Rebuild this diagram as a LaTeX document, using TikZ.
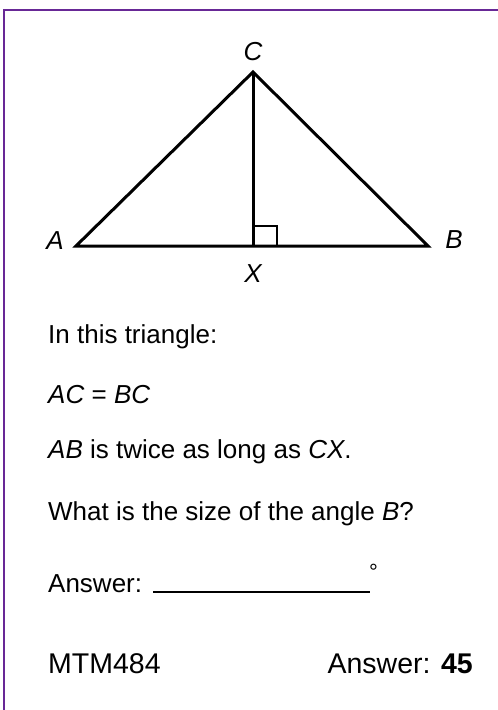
\documentclass[tikz,border=0pt]{standalone}
\usepackage{fontspec}
\setmainfont{Liberation Sans}
\usetikzlibrary{positioning}

\definecolor{framepurple}{RGB}{104,40,150}

\begin{document}
\begin{tikzpicture}[x=1pt,y=-1pt]

\tikzstyle{side}=[line width={3pt},line join={miter}]
\tikzstyle{frame}=[line width={1.5pt},draw={framepurple}]
\tikzstyle{vertex}=[inner sep={0pt},font={\fontsize{26}{30}\selectfont\itshape}]
\tikzstyle{question}=[inner sep={0pt},anchor={base west},font={\fontsize{26}{30}\selectfont}]
\tikzstyle{footer}=[inner sep={0pt},anchor={base west},font={\fontsize{28.5}{33}\selectfont}]

\useasboundingbox (0,0) rectangle (498,710) ;

% frame

\coordinate (F1) at (4,710) ;
\coordinate (F2) at (4,10) ;
\coordinate (F3) at (498,10) ;
\draw [frame] (F1) -- (F2) -- (F3) ;

% triangle: vertices and sides

\coordinate (A) at (76,246) ;
\coordinate (B) at (428,246) ;
\coordinate (C) at (253,72) ;
\coordinate (X) at (253,246) ;
\coordinate (R) at (277,226) ;

\draw [side] (A) -- (B) -- (C) -- cycle ;
\draw [side] (C) -- (X) ;
\draw [line width={2pt}] (X |- R) -- (R) -- (R |- X) ;

% triangle: labels

\node [vertex,anchor={base}] (LA) at (55,249) {A} ;
\node [vertex,anchor={base}] (LB) at (454,248) {B} ;
\node [vertex,anchor={base}] (LC) at (253,60) {C} ;
\node [vertex,anchor={base}] (LX) at (253,282) {X} ;

% question text

\node [question] (Q1) at (48,343) {In this triangle:} ;
\node [question] (Q2) at (48,403) {\textit{AC} = \textit{BC}} ;
\node [question] (Q3) at (48,458) {\textit{AB} is twice as long as \textit{CX}.} ;
\node [question] (Q4) at (48,520) {What is the size of the angle \textit{B}?} ;
\node [question] (Q5) at (48,592) {Answer:} ;

% answer line

\coordinate (U1) at (153,592) ;
\coordinate (U2) at (370,592) ;
\draw [line width={1.5pt}] (U1) -- (U2) ;
\node [inner sep={0pt},anchor={base west},font={\fontsize{22}{26}\selectfont}] (DEG) at (369,579) {°} ;

% footer

\node [footer] (CODE) at (48,673) {MTM484} ;
\node [footer,anchor={base east}] (ANS) at (473,673) {Answer: \textbf{45}} ;

\end{tikzpicture}
\end{document}
